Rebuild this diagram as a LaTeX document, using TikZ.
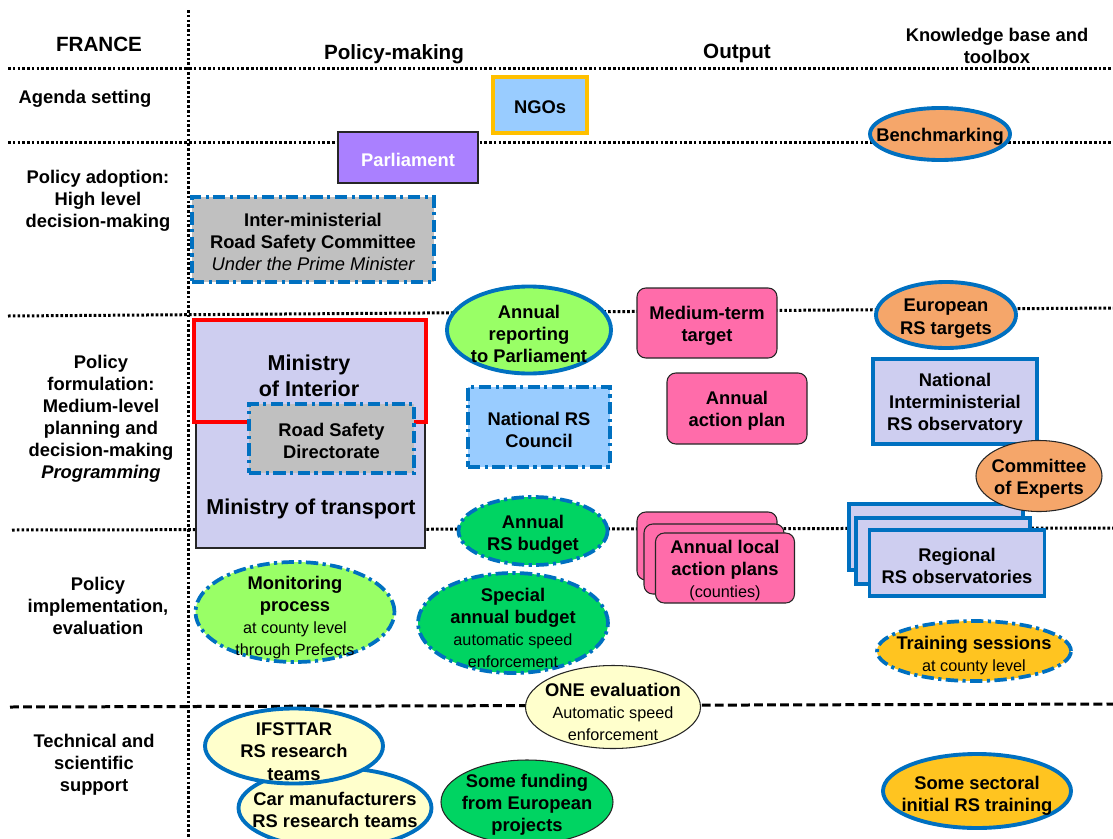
\documentclass[tikz,border=0pt]{standalone}
\usepackage{fontspec}
\setmainfont{Liberation Sans}
\usetikzlibrary{shapes.geometric}
\definecolor{rsblue}{RGB}{0,112,192}
\definecolor{rslav}{RGB}{206,206,240}
\definecolor{rsgray}{RGB}{192,192,192}
\definecolor{rssky}{RGB}{153,204,255}
\definecolor{rsgold}{RGB}{255,192,0}
\definecolor{rspurple}{RGB}{170,128,255}
\definecolor{rspink}{RGB}{255,108,170}
\definecolor{rslime}{RGB}{153,255,102}
\definecolor{rsgreen}{RGB}{0,212,98}
\definecolor{rscream}{RGB}{255,255,204}
\definecolor{rsorange}{RGB}{245,166,106}
\definecolor{rsyellow}{RGB}{255,196,32}
\newcommand{\pxu}{0.5669pt}
\newcommand{\sm}[1]{{\fontsize{9.2}{11}\selectfont\mdseries #1}}
\tikzset{
  dotline/.style={line width=1.7pt, dash pattern=on 1.5pt off 1.2pt},
  dashline/.style={line width=1.7pt, dash pattern=on 5pt off 2.4pt},
  wh/.style 2 args={minimum width=#1*\pxu, minimum height=#2*\pxu, inner sep=0pt},
  lbl/.style={font=\fontsize{10.4}{12.5}\selectfont\bfseries, align=center, inner sep=0pt, yshift=-1.5pt},
  head/.style={font=\fontsize{11.7}{14}\selectfont\bfseries, align=center, inner sep=0pt, yshift=-1pt},
  big/.style={font=\fontsize{12.2}{15}\selectfont\bfseries},
  oval/.style={ellipse, inner sep=0pt},
  box/.style={rectangle, inner sep=0pt},
  bluedd/.style={draw=rsblue, line width=2.1pt, dash pattern=on 7pt off 2.5pt on 1.8pt off 2.5pt},
  bluerim/.style={draw=rsblue, line width=2.2pt},
  thinrim/.style={draw=black!85, line width=0.6pt},
  pinkbox/.style={rectangle, rounded corners=5pt, fill=rspink, thinrim}
}
\begin{document}
\begin{tikzpicture}[x=\pxu, y=-\pxu]
\useasboundingbox (0,0) rectangle (1113,839);
\draw[dotline] (188,10) -- (188,839);
\draw[dotline] (8,68) -- (1113,68);
\draw[dotline] (8,142) -- (1113,142);
\draw[dotline] (8,316) -- (1113,308);
\draw[dotline] (12,530) -- (1113,528);
\draw[dashline] (10,707) -- (1113,704);

\node[head] (france) at (99,43) {FRANCE};
\node[head] (policy) at (394,52) {Policy-making};
\node[head] (output) at (737,52) {Output};
\node[lbl] (toolbox) at (997,43) {Knowledge base and\\toolbox};

\node[lbl] (agenda) at (85,96) {Agenda setting};
\node[lbl] (adoption) at (98,198) {Policy adoption:\\High level\\decision-making};
\node[lbl] (formulation) at (101,416) {Policy\\formulation:\\Medium-level\\planning and\\decision-making\\\textit{Programming}};
\node[lbl] (implement) at (98,603) {Policy\\implementation,\\evaluation};
\node[lbl] (technical) at (94,762) {Technical and\\scientific\\support};

\node[box, wh={94}{56}, fill=rssky, draw=rsgold, line width=2.6pt] (ngo) at (540,105) {};
\node[lbl] (ngo-t) at (ngo) {NGOs};
\node[box, wh={140}{51}, fill=rspurple, thinrim] (parl) at (408,157.5) {};
\node[lbl, text=white] (parl-t) at (parl) {Parliament};
\node[oval, wh={140}{52}, fill=rsorange, bluerim] (bench) at (940,134) {};
\node[lbl] (bench-t) at (bench) {Benchmarking};
\node[box, wh={242}{85}, fill=rsgray, bluedd] (imc) at (313,239.5) {};
\node[lbl] (imc-t) at (imc) {Inter-ministerial\\Road Safety Committee\\{\mdseries\itshape Under the Prime Minister}};

\node[box, wh={229}{126}, fill=rslav, thinrim] (mot) at (310.5,485) {};
\node[lbl, big] (mot-t) at (311,506) {Ministry of transport};
\node[box, wh={232}{102}, fill=rslav, draw=red, line width=2.8pt] (moi) at (310,371) {};
\node[lbl, big] (moi-t) at (309,373) {Ministry\\of Interior};
\node[box, wh={165}{69}, fill=rsgray, bluedd] (rsd) at (331.5,438.5) {};
\node[lbl] (rsd-t) at (rsd) {Road Safety\\Directorate};

\node[oval, wh={164}{87}, fill=rslime, bluerim] (report) at (529,330) {};
\node[lbl] (report-t) at (529,331) {Annual\\reporting\\to Parliament};
\node[box, wh={142}{80}, fill=rssky, bluedd] (council) at (539,427) {};
\node[lbl] (council-t) at (council) {National RS\\Council};
\node[oval, wh={149}{68}, fill=rsgreen, bluedd] (budget) at (533,531) {};
\node[lbl] (budget-t) at (533,532) {Annual\\RS budget};

\node[pinkbox, wh={140}{70}] (target) at (707,323) {};
\node[lbl] (target-t) at (target) {Medium-term\\target};
\node[pinkbox, wh={140}{71}] (plan) at (737,408.5) {};
\node[lbl] (plan-t) at (plan) {Annual\\action plan};
\node[pinkbox, wh={140}{68}] (local3) at (707,546) {};
\node[pinkbox, wh={140}{70}] (local2) at (714,559) {};
\node[pinkbox, wh={139}{70}] (local1) at (725,568) {};
\node[lbl] (local1-t) at (local1) {Annual local\\action plans\\\sm{(counties)}};

\node[oval, wh={140}{66}, fill=rsorange, bluerim] (europe) at (946,315) {};
\node[lbl] (europe-t) at (946,316) {European\\RS targets};
\node[box, wh={164}{85}, fill=rslav, bluerim] (nio) at (955,401.5) {};
\node[lbl] (nio-t) at (nio) {National\\Interministerial\\RS observatory};
\node[box, wh={174}{66}, fill=rslav, bluerim] (reg3) at (936,537) {};
\node[box, wh={174}{66}, fill=rslav, bluerim] (reg2) at (943,551) {};
\node[box, wh={175}{66}, fill=rslav, bluerim] (reg1) at (957,563) {};
\node[lbl] (reg1-t) at (reg1) {Regional\\RS observatories};
\node[oval, wh={126}{71}, fill=rsorange, thinrim] (experts) at (1039,476) {};
\node[lbl] (experts-t) at (experts) {Committee\\of Experts};

\node[oval, wh={199}{100}, fill=rslime, bluedd] (monitor) at (295,612) {};
\node[lbl] (monitor-t) at (295,615) {Monitoring\\process\\\sm{at county level}\\\sm{through Prefects}};
\node[oval, wh={190}{100}, fill=rsgreen, bluedd] (special) at (513,623) {};
\node[lbl] (special-t) at (513,625) {Special\\annual budget\\\sm{automatic speed}\\\sm{enforcement}};
\node[oval, wh={175}{83}, fill=rscream, thinrim] (one) at (613,707) {};
\node[lbl] (one-t) at (613,709) {ONE evaluation\\\sm{Automatic speed}\\\sm{enforcement}};
\node[oval, wh={194}{60}, fill=rsyellow, bluedd] (training) at (974,651) {};
\node[lbl] (training-t) at (974,653) {Training sessions\\\sm{at county level}};

\node[oval, wh={193}{80}, fill=rscream, bluerim] (car) at (335,808) {};
\node[oval, wh={178}{75}, fill=rscream, bluerim] (ifsttar) at (294,746) {};
\node[lbl] (ifsttar-t) at (294,749) {IFSTTAR\\RS research\\teams};
\node[lbl] (car-t) at (335,807) {Car manufacturers\\RS research teams};
\node[oval, wh={172}{84}, fill=rsgreen, thinrim] (funding) at (527,802) {};
\node[lbl] (funding-t) at (527,802) {Some funding\\from European\\projects};
\node[oval, wh={188}{74}, fill=rsyellow, bluerim] (sector) at (977,791) {};
\node[lbl] (sector-t) at (977,793) {Some sectoral\\initial RS training};
\end{tikzpicture}
\end{document}
